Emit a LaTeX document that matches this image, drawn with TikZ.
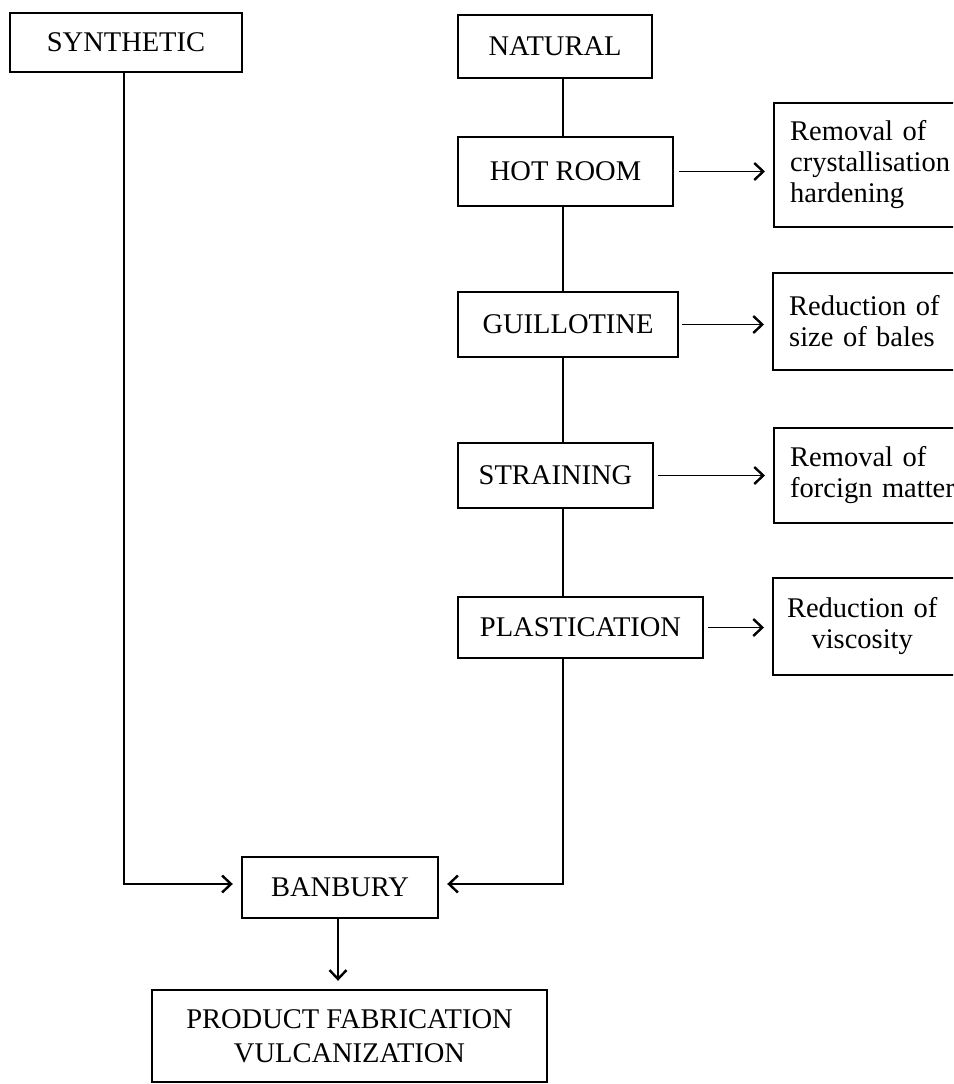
\documentclass[tikz,border=0pt]{standalone}
\usepackage{fontspec}
\setmainfont{Liberation Serif}
\usetikzlibrary{arrows.meta}
\begin{document}
\begin{tikzpicture}[x=1pt,y=-1pt,
  box/.style={draw, line width=2.4pt, inner sep=0pt, font=\fontsize{28.5}{31}\selectfont},
  side/.style={box, anchor=west, text width=200pt, inner xsep=16pt, inner ysep=0pt, align=left, minimum width=232pt},
  conn/.style={line width=1.5pt},
  arr/.style={conn, -{Straight Barb[length=9pt,width=17pt,line width=2.4pt]}, shorten >=8pt}
]
\useasboundingbox (0,0) rectangle (953,1084);
\clip (0,0) rectangle (953,1084);
\node[box, minimum width=232pt, minimum height=59pt] (syn) at (126,42.5) {SYNTHETIC};
\node[box, minimum width=194pt, minimum height=63pt] (nat) at (555,46.5) {NATURAL};
\node[box, minimum width=215pt, minimum height=69pt] (hot) at (565.5,171.5) {HOT ROOM};
\node[box, minimum width=220pt, minimum height=65pt] (gui) at (568,324.5) {GUILLOTINE};
\node[box, minimum width=195pt, minimum height=65pt] (str) at (555.5,475.5) {STRAINING};
\node[box, minimum width=245pt, minimum height=61pt] (pla) at (580.5,627.5) {PLASTICATION};
\node[box, minimum width=196pt, minimum height=61pt] (ban) at (340,887.5) {BANBURY};
\node[box, minimum width=395pt, minimum height=92pt, align=center, font=\fontsize{28.5}{34}\selectfont] (pro) at (349.5,1036) {PRODUCT FABRICATION\\VULCANIZATION};
\node[side, minimum height=124pt] (s1) at (773,165) {Removal of\\crystallisation\\hardening};
\node[side, minimum height=97pt] (s2) at (772,321.5) {Reduction of\\size of bales};
\node[side, minimum height=95pt] (s3) at (773,475.5) {Removal of\\forcign matter};
\node[side, minimum height=97pt] (s4) at (772,626.5) {\makebox[146pt]{Reduction of}\\\makebox[146pt]{viscosity}};
\coordinate (spine) at (563,0);
\draw[conn] (nat.south -| spine) -- (hot.north -| spine);
\draw[conn] (hot.south -| spine) -- (gui.north -| spine);
\draw[conn] (gui.south -| spine) -- (str.north -| spine);
\draw[conn] (str.south -| spine) -- (pla.north -| spine);
\draw[arr] (pla.south -| spine) |- ([yshift=3.5pt]ban.east);
\draw[arr] ([xshift=-2pt]syn.south) |- ([yshift=3.5pt]ban.west);
\draw[arr] ([xshift=-2pt]ban.south) -- ([xshift=-2pt]ban.south |- pro.north);
\draw[arr, shorten <=5pt] (hot.east) -- (hot.east -| s1.west);
\draw[arr, shorten <=3pt] (gui.east) -- (gui.east -| s2.west);
\draw[arr, shorten <=4pt] (str.east) -- (str.east -| s3.west);
\draw[arr, shorten <=4pt] (pla.east) -- (pla.east -| s4.west);
\end{tikzpicture}
\end{document}
